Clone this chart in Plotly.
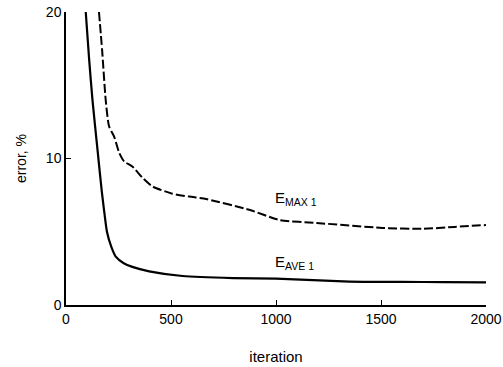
import plotly.graph_objects as go

# E_AVE1 (solid)
ave_iter = [94, 110, 126, 150, 170, 181, 195, 215, 237, 275, 316, 396, 555, 794, 1000, 1350, 1600, 1800, 2000]
ave_err = [20.0, 16.8, 14.0, 10.6, 7.8, 6.5, 5.0, 4.0, 3.3, 2.85, 2.6, 2.3, 1.98, 1.84, 1.8, 1.6, 1.58, 1.56, 1.55]

# E_MAX1 (dashed)
max_iter = [157, 172, 189, 205, 229, 253, 277, 316, 363, 411, 506, 587, 668, 873, 1017, 1193, 1508, 1700, 1850, 2000]
max_err = [20.0, 17.4, 14.0, 12.2, 11.5, 10.4, 9.8, 9.45, 8.7, 8.1, 7.6, 7.4, 7.23, 6.5, 5.8, 5.6, 5.26, 5.2, 5.33, 5.46]

x_ticks = [0, 500, 1000, 1500, 2000]
y_ticks = [0, 10, 20]

fig = go.Figure()
fig.add_trace(go.Scatter(x=ave_iter, y=ave_err, mode="lines",
                         line=dict(color="black", width=2.2, shape="spline", smoothing=0.6),
                         showlegend=False))
fig.add_trace(go.Scatter(x=max_iter, y=max_err, mode="lines",
                         line=dict(color="black", width=2, dash="9px,3px", shape="spline", smoothing=0.6),
                         showlegend=False))

fig.add_annotation(x=985, y=7.25, text="E<sub>MAX 1</sub>", showarrow=False,
                   xanchor="left", yanchor="middle", font=dict(size=15, color="black"))
fig.add_annotation(x=985, y=2.9, text="E<sub>AVE 1</sub>", showarrow=False,
                   xanchor="left", yanchor="middle", font=dict(size=15, color="black"))

fig.update_layout(
    width=503, height=367,
    margin=dict(l=66, r=17, t=12, b=62),
    paper_bgcolor="white", plot_bgcolor="white",
    font=dict(family="Liberation Sans, Arial, sans-serif", size=14, color="black"),
)
fig.update_xaxes(range=[0, 2000], tickvals=x_ticks, showgrid=False, zeroline=False,
                 showline=True, linecolor="black", linewidth=1.5,
                 ticks="inside", ticklen=5, tickcolor="black", tickfont=dict(size=14),
                 automargin=False,
                 title=dict(text="iteration", standoff=26, font=dict(size=15)))
fig.update_yaxes(range=[0, 20], tickvals=y_ticks, showgrid=False, zeroline=False,
                 showline=True, linecolor="black", linewidth=1.5,
                 ticks="inside", ticklen=5, tickcolor="black", tickfont=dict(size=14),
                 automargin=False,
                 title=dict(text="error, %", standoff=16, font=dict(size=14)))

fig.write_html("out.html", config={"displayModeBar": False},
               post_script="document.body.style.margin='0';document.body.style.overflow='hidden';")
